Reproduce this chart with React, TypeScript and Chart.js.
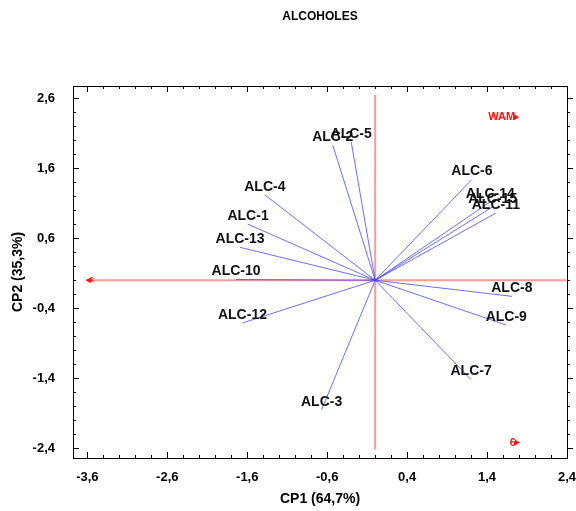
import React, { useEffect, useRef } from "react";
import { Chart, registerables } from "chart.js";
Chart.register(...registerables);

const TITLE = "ALCOHOLES";
const X_TITLE = "CP1 (64,7%)";
const Y_TITLE = "CP2 (35,3%)";
const X_TICKS = [-3.6, -2.6, -1.6, -0.6, 0.4, 1.4, 2.4];
const Y_TICKS = [-2.4, -1.4, -0.4, 0.6, 1.6, 2.6];
const MINOR_STEP = 0.2;
const X_MIN = -3.78;
const X_MAX = 2.4;
const Y_MIN = -2.54;
const Y_MAX = 2.776;

const VAR_LABELS = ["ALC-1", "ALC-2", "ALC-3", "ALC-4", "ALC-5", "ALC-6", "ALC-7", "ALC-8", "ALC-9", "ALC-10", "ALC-11", "ALC-12", "ALC-13", "ALC-14", "ALC-15"];
const VAR_X = [-1.59, -0.53, -0.67, -1.38, -0.30, 1.21, 1.20, 1.71, 1.64, -1.74, 1.51, -1.66, -1.69, 1.44, 1.47];
const VAR_Y = [0.80, 1.93, -1.85, 1.22, 1.98, 1.44, -1.42, -0.23, -0.64, 0.01, 0.96, -0.61, 0.47, 1.12, 1.05];

const H_LINE_X = [-3.62, 2.4];
const V_LINE_Y = [-2.42, 2.65];

const RED_LABELS = ["4", "WAM", "6"];
const RED_X = [-3.62, 1.80, 1.81];
const RED_Y = [0, 2.33, -2.32];

const FONT = "'Liberation Sans', Arial, sans-serif";
const fmt = (v: number) => v.toFixed(1).replace(".", ",");

export default function App() {
  const ref = useRef<HTMLCanvasElement | null>(null);
  useEffect(() => {
    if (!ref.current) return;
    const vectorSets = VAR_LABELS.map((lab, i) => ({
      label: lab,
      data: [{ x: 0, y: 0 }, { x: VAR_X[i], y: VAR_Y[i] }],
      showLine: true,
      borderColor: "rgba(60,60,255,0.75)",
      borderWidth: 1,
      pointRadius: 0,
      order: 1,
    }));
    const redSets = [
      {
        label: "h",
        data: H_LINE_X.map((x) => ({ x, y: 0 })),
        showLine: true,
        borderColor: "rgba(255,120,120,0.75)",
        borderWidth: 2,
        pointRadius: 0,
        order: 2,
      },
      {
        label: "v",
        data: V_LINE_Y.map((y) => ({ x: 0, y })),
        showLine: true,
        borderColor: "rgba(255,120,120,0.75)",
        borderWidth: 2,
        pointRadius: 0,
        order: 2,
      },
    ];

    const decor = {
      id: "decor",
      afterDraw(chart: any) {
        const { ctx, chartArea: a, scales } = chart;
        const xs = scales.x;
        const ys = scales.y;
        ctx.save();
        // title
        ctx.fillStyle = "#000";
        ctx.font = `bold 12px ${FONT}`;
        ctx.textAlign = "center";
        ctx.textBaseline = "middle";
        ctx.fillText(TITLE, (a.left + a.right) / 2, 17);
        // frame
        ctx.strokeStyle = "#000";
        ctx.lineWidth = 1;
        ctx.strokeRect(a.left + 0.5, a.top + 0.5, a.right - a.left, a.bottom - a.top);
        // ticks
        ctx.beginPath();
        for (let v = X_TICKS[0]; v <= X_MAX + 1e-9; v += MINOR_STEP) {
          const major = X_TICKS.some((t) => Math.abs(t - v) < 1e-6);
          const len = major ? 6 : 3;
          const px = Math.round(xs.getPixelForValue(v)) + 0.5;
          ctx.moveTo(px, a.bottom);
          ctx.lineTo(px, a.bottom - len);
          ctx.moveTo(px, a.top);
          ctx.lineTo(px, a.top + len);
        }
        for (let v = Y_TICKS[0]; v <= Y_MAX + 1e-9; v += MINOR_STEP) {
          const major = Y_TICKS.some((t) => Math.abs(t - v) < 1e-6);
          const len = major ? 6 : 3;
          const py = Math.round(ys.getPixelForValue(v)) + 0.5;
          ctx.moveTo(a.left, py);
          ctx.lineTo(a.left + len, py);
          ctx.moveTo(a.right, py);
          ctx.lineTo(a.right + len, py);
        }
        ctx.stroke();
        // variable labels
        ctx.font = `bold 14px ${FONT}`;
        ctx.fillStyle = "#111";
        ctx.textAlign = "center";
        ctx.textBaseline = "middle";
        VAR_LABELS.forEach((lab, i) => {
          const px = xs.getPixelForValue(VAR_X[i]);
          const py = ys.getPixelForValue(VAR_Y[i]);
          ctx.fillText(lab, px, py - 8);
        });
        // red markers
        ctx.fillStyle = "#ff1010";
        RED_LABELS.forEach((lab, i) => {
          const px = xs.getPixelForValue(RED_X[i]);
          const py = ys.getPixelForValue(RED_Y[i]);
          ctx.beginPath();
          if (i === 0) {
            ctx.moveTo(px, py);
            ctx.lineTo(px + 5, py - 3);
            ctx.lineTo(px + 5, py + 3);
            ctx.closePath();
            ctx.fill();
            ctx.font = `bold 8px ${FONT}`;
            ctx.textAlign = "left";
            ctx.fillText(lab, px + 3, py);
          } else {
            ctx.moveTo(px, py);
            ctx.lineTo(px - 5, py - 3);
            ctx.lineTo(px - 5, py + 3);
            ctx.closePath();
            ctx.fill();
            ctx.font = `bold 11px ${FONT}`;
            ctx.textAlign = "right";
            ctx.fillText(lab, px - 4, py);
          }
        });
        ctx.restore();
      },
    };

    const chart = new Chart(ref.current, {
      type: "scatter",
      data: { datasets: [...vectorSets, ...redSets] as any },
      options: {
        animation: false,
        responsive: true,
        maintainAspectRatio: false,
        layout: { padding: { top: 86, right: 9, bottom: 0, left: 0 } },
        plugins: { legend: { display: false }, tooltip: { enabled: false }, title: { display: false } },
        scales: {
          x: {
            type: "linear",
            min: X_MIN,
            max: X_MAX,
            afterBuildTicks: (s: any) => {
              s.ticks = X_TICKS.map((v) => ({ value: v }));
            },
            afterFit: (s: any) => {
              s.height = 53;
              s.paddingLeft = 0;
              s.paddingRight = 0;
            },
            ticks: {
              callback: (v: any) => fmt(Number(v)),
              font: { family: FONT, size: 13, weight: "bold" },
              color: "#000",
              padding: 4,
              maxRotation: 0,
              autoSkip: false,
            },
            grid: { display: false },
            border: { display: false },
            title: {
              display: true,
              text: X_TITLE,
              font: { family: FONT, size: 14, weight: "bold" },
              color: "#000",
              padding: { top: 0, bottom: 3 },
            },
          },
          y: {
            type: "linear",
            min: Y_MIN,
            max: Y_MAX,
            afterBuildTicks: (s: any) => {
              s.ticks = Y_TICKS.map((v) => ({ value: v }));
            },
            afterFit: (s: any) => {
              s.width = 73;
              s.paddingTop = 0;
              s.paddingBottom = 0;
            },
            ticks: {
              callback: (v: any) => fmt(Number(v)),
              font: { family: FONT, size: 13, weight: "bold" },
              color: "#000",
              padding: 10,
              autoSkip: false,
            },
            grid: { display: false },
            border: { display: false },
            title: {
              display: true,
              text: Y_TITLE,
              font: { family: FONT, size: 14, weight: "bold" },
              color: "#000",
              padding: { top: 10, bottom: 0 },
            },
          },
        },
      },
      plugins: [decor],
    } as any);
    return () => chart.destroy();
  }, []);

  return (
    <div style={{ position: "absolute", left: 0, top: 0, width: 576, height: 511, background: "#fff" }}>
      <canvas ref={ref} />
    </div>
  );
}
